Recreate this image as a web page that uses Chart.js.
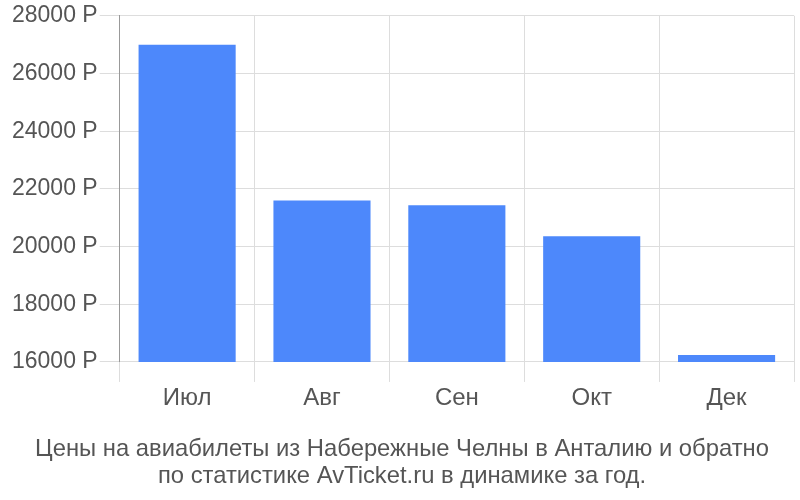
<!DOCTYPE html>
<html>
<head>
<meta charset="utf-8">
<script src="https://cdn.jsdelivr.net/npm/chart.js@4.4.0/dist/chart.umd.min.js"></script>
<style>
  html, body { margin: 0; padding: 0; background: #fff; }
  #wrap { width: 800px; height: 500px; }
</style>
</head>
<body>
<div id="wrap"><canvas id="chart"></canvas></div>
<script>
// Месяцы и цены
const months = ['Июл', 'Авг', 'Сен', 'Окт', 'Дек'];
const prices = [27000, 21600, 21430, 20360, 16240];

const yMin = 16000;
const yMax = 28000;
const yStep = 2000;

const titleLines = [
    'Цены на авиабилеты из Набережные Челны в Анталию и обратно',
    'по статистике AvTicket.ru в динамике за год.'
];

const fontFamily = '"Liberation Sans", Arial, sans-serif';
const textColor = '#555555';
const gridColor = '#dddddd';

const config = {
    type: 'bar',
    data: {
        labels: months,
        datasets: [{
            data: prices,
            backgroundColor: '#4d88fb',
            borderWidth: 0,
            barPercentage: 0.72,
            categoryPercentage: 1.0
        }]
    },
    options: {
        responsive: true,
        maintainAspectRatio: false,
        animation: false,
        layout: { padding: { left: 10, right: 6, top: 1, bottom: 10 } },
        plugins: {
            legend: { display: false },
            tooltip: { enabled: false },
            title: {
                display: true,
                position: 'bottom',
                text: titleLines,
                color: textColor,
                font: { family: fontFamily, size: 23.8, weight: 'normal', lineHeight: 1.14 },
                padding: { top: 21, bottom: 0 }
            }
        },
        scales: {
            x: {
                grid: { color: gridColor, tickLength: 20, offset: true },
                border: { color: gridColor },
                ticks: { color: textColor, font: { family: fontFamily, size: 24 }, padding: 2 }
            },
            y: {
                min: yMin,
                max: yMax,
                grid: { color: gridColor, tickLength: 20 },
                border: { color: '#999999' },
                ticks: {
                    stepSize: yStep,
                    color: textColor,
                    padding: 2,
                    font: { family: fontFamily, size: 23 },
                    callback: (v) => v + ' Р'
                }
            }
        }
    }
};

new Chart(document.getElementById('chart'), config);
</script>
</body>
</html>
